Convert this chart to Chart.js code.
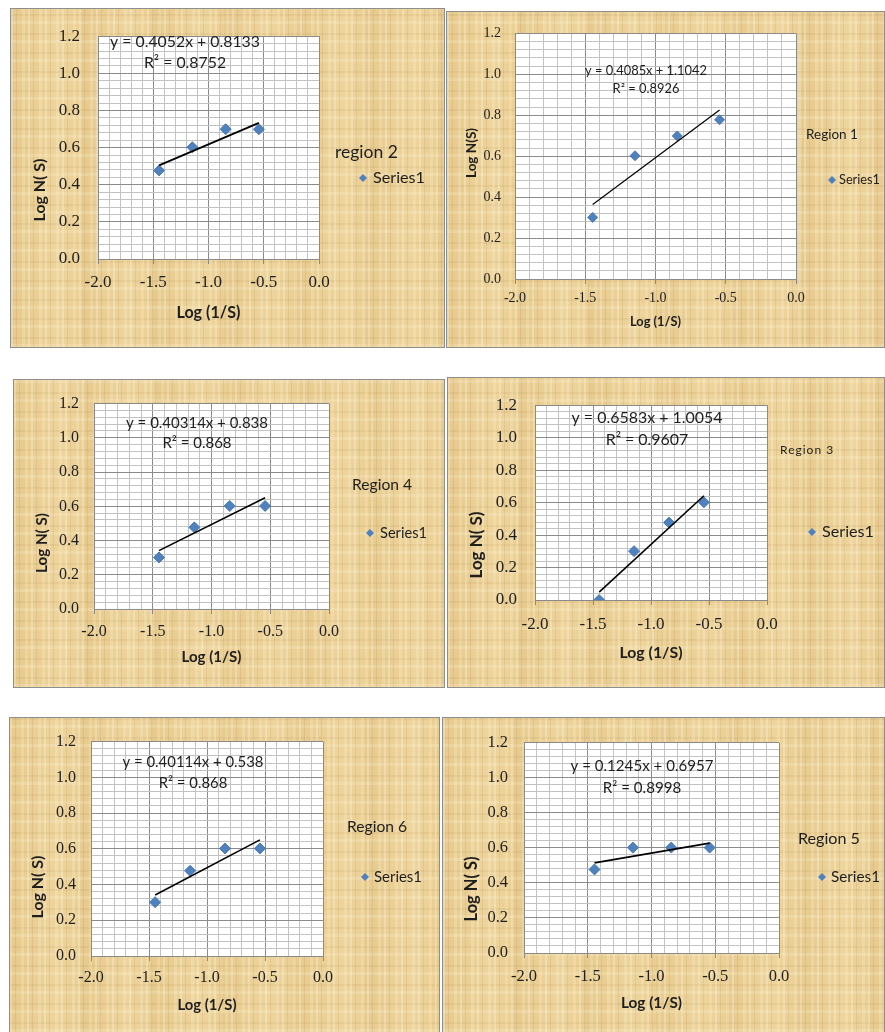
<!DOCTYPE html>
<html>
<head>
<meta charset="utf-8">
<script src="https://cdn.jsdelivr.net/npm/chart.js@4.4.1/dist/chart.umd.min.js"></script>
<style>
html,body{margin:0;padding:0;background:#fff;width:885px;height:1032px;overflow:hidden;position:relative;}
.panel{position:absolute;box-sizing:border-box;border:1px solid #8e8e8e;
 background-color:#eacf95;
 background-image:
  repeating-linear-gradient(90deg, rgba(255,248,222,0.30) 0px, rgba(255,248,222,0.30) 2px, rgba(0,0,0,0) 2px, rgba(0,0,0,0) 5px, rgba(170,125,55,0.15) 5px, rgba(170,125,55,0.15) 6px, rgba(0,0,0,0) 6px, rgba(0,0,0,0) 11px, rgba(255,245,210,0.22) 11px, rgba(255,245,210,0.22) 14px, rgba(0,0,0,0) 14px, rgba(0,0,0,0) 17px),
  repeating-linear-gradient(0deg, rgba(255,245,215,0.22) 0px, rgba(255,245,215,0.22) 3px, rgba(0,0,0,0) 3px, rgba(0,0,0,0) 8px, rgba(160,120,50,0.10) 8px, rgba(160,120,50,0.10) 10px, rgba(0,0,0,0) 10px, rgba(0,0,0,0) 19px),
  repeating-linear-gradient(90deg, rgba(200,160,90,0.12) 0px, rgba(0,0,0,0) 23px, rgba(255,240,200,0.16) 47px, rgba(0,0,0,0) 71px);
}
canvas{position:absolute;}
</style>
</head>
<body>
<script>
// ---------- data ----------
const logInvS = [-1.447, -1.146, -0.845, -0.544];
const trendX = [-1.447, -0.544];

const region2LogN = [0.477, 0.602, 0.699, 0.699];
const region1LogN = [0.301, 0.602, 0.699, 0.778];
const region4LogN = [0.301, 0.477, 0.602, 0.602];
const region3LogN = [0.000, 0.301, 0.477, 0.602];
const region6LogN = [0.301, 0.477, 0.602, 0.602];
const region5LogN = [0.477, 0.602, 0.602, 0.602];

const region2Trend = [0.504, 0.733];
const region1Trend = [0.364, 0.826];
const region4Trend = [0.341, 0.650];
const region3Trend = [0.048, 0.642];
const region6Trend = [0.341, 0.650];
const region5Trend = [0.515, 0.628];

const region2Eq = ['y = 0.4052x + 0.8133', 'R\u00B2 = 0.8752'];
const region1Eq = ['y = 0.4085x + 1.1042', 'R\u00B2 = 0.8926'];
const region4Eq = ['y = 0.40314x + 0.838', 'R\u00B2 = 0.868'];
const region3Eq = ['y = 0.6583x + 1.0054', 'R\u00B2 = 0.9607'];
const region6Eq = ['y = 0.40114x + 0.538', 'R\u00B2 = 0.868'];
const region5Eq = ['y = 0.1245x + 0.6957', 'R\u00B2 = 0.8998'];

const xTickLabels = ['-2.0', '-1.5', '-1.0', '-0.5', '0.0'];
const yTickLabels = ['0.0', '0.2', '0.4', '0.6', '0.8', '1.0', '1.2'];
const seriesName = 'Series1';
const xTitle = 'Log (1/S)';

// ---------- layout (page pixels) ----------
const panels = [
  { legend:'region 2', y:region2LogN, trend:region2Trend, eq:region2Eq, yTitle:'Log N( S)',
    box:[10,8,445,348], area:[98,29,319,259], tickFont:17, yGap:18, xLabelCY:283, xTitleCY:313, xTitleW:64,
    yTitleX:40, yTitleCY:190, yTitleW:63, eqX:185, eqY:[42,63], eqW:150,
    legX:335, legY:152, legW:63, mkX:363, mkY:178, serX:373, serW:52, lineW:1.8, pr:5.5 },
  { legend:'Region 1', y:region1LogN, trend:region1Trend, eq:region1Eq, yTitle:'Log N(S)',
    box:[446,11,885,348], area:[515,27,796,279], tickFont:14, yGap:14, xLabelCY:298, xTitleCY:322, xTitleW:51,
    yTitleX:472, yTitleCY:153, yTitleW:50, eqX:646, eqY:[71,89], eqW:122,
    legX:806, legY:135, legW:52, mkX:832, mkY:180, serX:839, serW:41, lineW:1.2, pr:5 },
  { legend:'Region 4', y:region4LogN, trend:region4Trend, eq:region4Eq, yTitle:'Log N( S)',
    box:[13,379,445,688], area:[94,397,329,609], tickFont:16, yGap:15, xLabelCY:632, xTitleCY:657, xTitleW:60,
    yTitleX:42, yTitleCY:543, yTitleW:60, eqX:197, eqY:[423,443], eqW:142,
    legX:352, legY:485, legW:60, mkX:370, mkY:533, serX:380, serW:47, lineW:1.6, pr:5.5 },
  { legend:'Region 3', y:region3LogN, trend:region3Trend, eq:region3Eq, yTitle:'Log N( S)',
    box:[447,377,885,688], area:[535,396,767,600], tickFont:17, yGap:18, xLabelCY:625, xTitleCY:653, xTitleW:63,
    yTitleX:477, yTitleCY:545, yTitleW:67, eqX:647, eqY:[418,440], eqW:151,
    legX:780, legY:450, legSize:12, legSpacing:'1px', mkX:812, mkY:532, serX:822, serW:52, lineW:1.6, pr:5.5 },
  { legend:'Region 6', y:region6LogN, trend:region6Trend, eq:region6Eq, yTitle:'Log N( S)',
    box:[9,717,440,1032], area:[91,737,323,956], tickFont:16, yGap:15, xLabelCY:978, xTitleCY:1005, xTitleW:59,
    yTitleX:38, yTitleCY:887, yTitleW:63, eqX:193, eqY:[762,783], eqW:141,
    legX:347, legY:827, legW:60, mkX:365, mkY:877, serX:374, serW:48, lineW:1.6, pr:5.5, noBottom:true },
  { legend:'Region 5', y:region5LogN, trend:region5Trend, eq:region5Eq, yTitle:'Log N( S)',
    box:[442,717,885,1032], area:[524,737,779,953], tickFont:16.5, yGap:16, xLabelCY:977, xTitleCY:1003, xTitleW:61,
    yTitleX:472, yTitleCY:889, yTitleW:65, eqX:642, eqY:[766,788], eqW:143,
    legX:798, legY:839, legW:62, mkX:822, mkY:877, serX:831, serW:49, lineW:1.8, pr:5.5, noBottom:true }
];

const MAJOR = '#8a8a8a', MINOR = '#c2c2c2', TEXT = '#1e1e1e', MARKER = '#4f81bd';
const SANS = 'Lato, "Open Sans", sans-serif';
const SERIF = '"Liberation Serif", "DejaVu Serif", serif';

const mctx = document.createElement('canvas').getContext('2d');
function fitSize(text, weight, family, width) {
  mctx.font = weight + ' 100px ' + family;
  return 100 * width / mctx.measureText(text).width;
}

const xTickValues = [];
for (let i = 0; i <= 20; i++) xTickValues.push(Math.round((-2 + i * 0.1) * 10) / 10);
const yTickValues = [];
for (let i = 0; i <= 30; i++) yTickValues.push(Math.round(i * 0.04 * 100) / 100);

function diamond(ctx, x, y, r) {
  ctx.beginPath();
  ctx.moveTo(x - r, y); ctx.lineTo(x, y - r); ctx.lineTo(x + r, y); ctx.lineTo(x, y + r);
  ctx.closePath(); ctx.fill();
}

const plotBg = {
  id: 'plotBg',
  beforeDraw(chart) {
    const a = chart.chartArea, c = chart.ctx;
    c.save(); c.fillStyle = '#ffffff';
    c.fillRect(a.left, a.top, a.right - a.left, a.bottom - a.top);
    c.restore();
  }
};

const decorations = {
  id: 'decorations',
  afterDraw(chart, args, opts) {
    const p = opts.panel; const c = chart.ctx;
    const ox = p.box[0], oy = p.box[1];
    c.save();
    c.fillStyle = TEXT;
    c.textBaseline = 'middle';
    // equation
    const es = fitSize(p.eq[0], 'normal', SANS, p.eqW);
    c.font = 'normal ' + es + 'px ' + SANS;
    c.textAlign = 'center';
    c.fillText(p.eq[0], p.eqX - ox, p.eqY[0] - oy);
    c.fillText(p.eq[1], p.eqX - ox, p.eqY[1] - oy);
    // y title
    const ys = fitSize(p.yTitle, 'bold', SANS, p.yTitleW);
    c.save();
    c.translate(p.yTitleX - ox, p.yTitleCY - oy);
    c.rotate(-Math.PI / 2);
    c.font = 'bold ' + ys + 'px ' + SANS;
    c.fillText(p.yTitle, 0, 0);
    c.restore();
    // legend
    c.textAlign = 'left';
    let ls = p.legSize || fitSize(p.legend, 'normal', SANS, p.legW);
    c.font = 'normal ' + ls + 'px ' + SANS;
    if (p.legSpacing) c.letterSpacing = p.legSpacing;
    c.fillText(p.legend, p.legX - ox, p.legY - oy);
    c.letterSpacing = '0px';
    const ss = fitSize(seriesName, 'normal', SANS, p.serW);
    c.font = 'normal ' + ss + 'px ' + SANS;
    c.fillText(seriesName, p.serX - ox, p.mkY - oy);
    c.fillStyle = MARKER;
    diamond(c, p.mkX - ox, p.mkY - oy, 4);
    c.restore();
  }
};

panels.forEach((p) => {
  const div = document.createElement('div');
  div.className = 'panel';
  const W = p.box[2] - p.box[0], H = p.box[3] - p.box[1];
  div.style.left = p.box[0] + 'px'; div.style.top = p.box[1] + 'px';
  div.style.width = W + 'px'; div.style.height = H + 'px';
  if (p.noBottom) div.style.borderBottom = 'none';
  document.body.appendChild(div);

  const cv = document.createElement('canvas');
  cv.width = W; cv.height = H;
  cv.style.left = p.box[0] + 'px'; cv.style.top = p.box[1] + 'px';
  cv.style.width = W + 'px'; cv.style.height = H + 'px';
  document.body.appendChild(cv);

  const tickLen = 5;
  const xs = fitSize(xTitle, 'bold', SANS, p.xTitleW);
  const xTitlePad = (p.box[3] - p.xTitleCY) - xs * 1.2 / 2;
  const xTickPad = p.xLabelCY - p.area[3] - tickLen - p.tickFont * 1.2 / 2;

  new Chart(cv, {
    type: 'scatter',
    data: {
      datasets: [
        { type: 'line', label: 'trend', data: trendX.map((x, i) => ({ x: x, y: p.trend[i] })),
          borderColor: '#000000', borderWidth: p.lineW, pointRadius: 0, fill: false, order: 0 },
        { label: seriesName, data: logInvS.map((x, i) => ({ x: x, y: p.y[i] })),
          pointStyle: 'rectRot', pointRadius: p.pr, pointBackgroundColor: MARKER,
          pointBorderColor: '#4a7ab4', pointBorderWidth: 1, showLine: false, order: 1 }
      ]
    },
    options: {
      responsive: false, animation: false, devicePixelRatio: 1,
      layout: { padding: { left: 0, top: p.area[1] - p.box[1], right: p.box[2] - p.area[2], bottom: 0 } },
      plugins: { legend: { display: false }, tooltip: { enabled: false }, decorations: { panel: p } },
      scales: {
        x: {
          type: 'linear', min: -2, max: 0,
          afterBuildTicks: (s) => { s.ticks = xTickValues.map(v => ({ value: v })); },
          afterFit: (s) => { s.height = p.box[3] - p.area[3]; },
          ticks: { autoSkip: false, maxRotation: 0, minRotation: 0, padding: xTickPad, color: TEXT,
            font: { family: SERIF, size: p.tickFont },
            callback: (v, i) => (i % 5 === 0 ? xTickLabels[i / 5] : '') },
          grid: { color: (c) => (c.index % 5 === 0 ? MAJOR : MINOR),
            tickColor: (c) => (c.index % 5 === 0 ? MAJOR : 'rgba(0,0,0,0)'), tickLength: tickLen, lineWidth: 1 },
          border: { color: MAJOR },
          title: { display: true, text: xTitle, color: TEXT,
            font: { family: SANS, weight: 'bold', size: xs }, padding: { top: 0, bottom: xTitlePad } }
        },
        y: {
          type: 'linear', min: 0, max: 1.2,
          afterBuildTicks: (s) => { s.ticks = yTickValues.map(v => ({ value: v })); },
          afterFit: (s) => { s.width = p.area[0] - p.box[0]; },
          ticks: { autoSkip: false, padding: p.yGap, color: TEXT,
            font: { family: SERIF, size: p.tickFont },
            callback: (v, i) => (i % 5 === 0 ? yTickLabels[i / 5] : '') },
          grid: { color: (c) => (c.index % 5 === 0 ? MAJOR : MINOR), drawTicks: false, lineWidth: 1 },
          border: { color: MAJOR }
        }
      }
    },
    plugins: [plotBg, decorations]
  });
});
</script>
</body>
</html>
